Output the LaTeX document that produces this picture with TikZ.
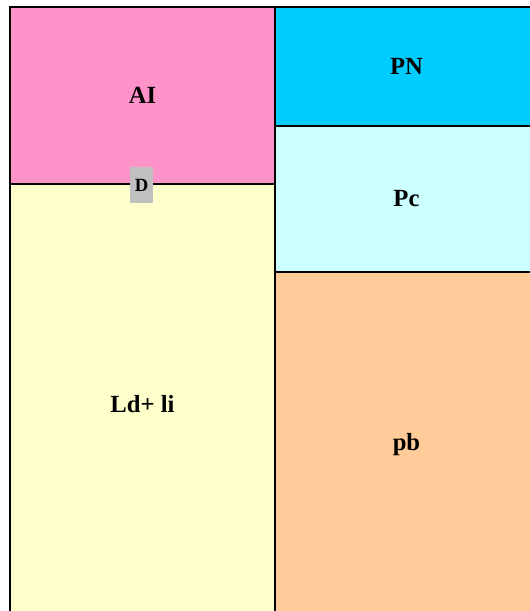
\documentclass[tikz,border=0pt]{standalone}
\usepackage{fontspec}
\setmainfont{Liberation Serif}
\usepackage{tikz}

\definecolor{aipink}{HTML}{FF93C9}
\definecolor{pncyan}{HTML}{00CCFF}
\definecolor{pclight}{HTML}{CCFFFF}
\definecolor{ldyellow}{HTML}{FFFFCC}
\definecolor{pborange}{HTML}{FFCC99}
\definecolor{dgrey}{HTML}{C0C0C0}

\begin{document}
\begin{tikzpicture}[x=0.75pt, y=-0.75pt,
  every node/.style={rectangle, draw, line width=1.2pt, inner sep=0pt,
    font=\fontsize{18.5}{20}\selectfont\bfseries},
  tag/.style={draw=none, fill=dgrey, minimum width=17pt, minimum height=27pt,
    font=\fontsize{14}{16}\selectfont\bfseries}]
  \useasboundingbox (0,0) rectangle (529,611);
  \node (AI) [fill=aipink, minimum width=198.75pt, minimum height=132.75pt] at (142.5, 95.5) {AI};
  \node (Ld) [fill=ldyellow, minimum width=198.75pt, minimum height=330pt] at (142.5, 404) {Ld+ li};
  \node (PN) [fill=pncyan, minimum width=197.25pt, minimum height=89.25pt] at (406.5, 66.5) {PN};
  \node (Pc) [fill=pclight, minimum width=197.25pt, minimum height=109.5pt] at (406.5, 199) {Pc};
  \node (pb) [fill=pborange, minimum width=197.25pt, minimum height=259.5pt] at (406.5, 445) {pb};
  \node [tag] (D) at (141.5, 185) {D};
\end{tikzpicture}
\end{document}
